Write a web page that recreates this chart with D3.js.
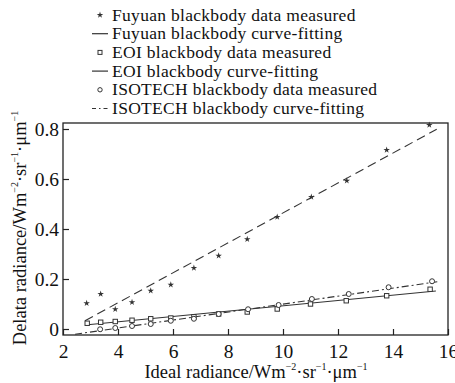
<!DOCTYPE html>
<html><head><meta charset="utf-8">
<script src="https://cdn.jsdelivr.net/npm/d3@7"></script>
<style>body{margin:0;background:#fff}svg{display:block}text{font-family:"Liberation Serif","Times New Roman",serif;fill:#111}</style>
</head><body><svg id="c" width="455" height="383"></svg>
<script>
const fuyuanX = [2.86,3.37,3.9,4.51,5.19,5.92,6.76,7.66,8.70,9.79,11.03,12.32,13.77,15.32];
const fuyuanY = [0.103,0.14,0.079,0.107,0.153,0.177,0.244,0.293,0.359,0.448,0.528,0.593,0.716,0.816];
const eoiX = [2.88,3.37,3.9,4.51,5.19,5.92,6.76,7.66,8.70,9.79,11.0,12.3,13.77,15.35];
const eoiY = [0.023,0.027,0.03,0.035,0.041,0.044,0.049,0.06,0.068,0.08,0.10,0.113,0.133,0.159];
const isoX = [3.35,3.9,4.51,5.19,5.92,6.76,7.66,8.73,9.84,11.05,12.39,13.84,15.42];
const isoY = [-0.001,0.004,0.012,0.02,0.033,0.041,0.06,0.079,0.096,0.12,0.14,0.167,0.191];
const fuyuanFitX = [2.8,15.59], fuyuanFitY = [0.033,0.799];
const eoiFitX = [2.8,15.56], eoiFitY = [0.016,0.152];
const isoFitX = [2.44,15.61], isoFitY = [-0.021,0.189];
const xTicks = [2,4,6,8,10,12,14,16];
const yTicks = [0,0.2,0.4,0.6,0.8];
const legendLabels = ["Fuyuan blackbody data measured","Fuyuan blackbody curve-fitting","EOI blackbody data measured","EOI blackbody curve-fitting","ISOTECH blackbody data measured","ISOTECH blackbody curve-fitting"];

const svg = d3.select("#c");
const L=63,R=448,T=123,B=335;
const x = d3.scaleLinear().domain([2,16]).range([L,R]);
const y = d3.scaleLinear().domain([-0.024,0.824]).range([B,T]);
const col="#222";

svg.append("rect").attr("x",L).attr("y",T).attr("width",R-L).attr("height",B-T).attr("fill","none").attr("stroke",col).attr("stroke-width",1.3);

const xa = svg.append("g").attr("transform",`translate(0,${B})`).call(d3.axisBottom(x).tickValues(xTicks).tickSize(-6).tickPadding(9).tickFormat(d3.format("d")));
const ya = svg.append("g").attr("transform",`translate(${L},0)`).call(d3.axisLeft(y).tickValues(yTicks).tickSize(-6).tickPadding(4).tickFormat(d=>d===0?"0":d3.format(".1f")(d)));
[xa,ya].forEach(a=>{a.select(".domain").remove();a.selectAll("line").attr("stroke",col).attr("stroke-width",1.2);a.selectAll("text").attr("font-size",19.5).attr("font-family","Liberation Serif").attr("fill","#111");});

function fitLine(xs,ys,dash){
  svg.append("path").datum(xs.map((v,i)=>[v,ys[i]]))
   .attr("d",d3.line().x(d=>x(d[0])).y(d=>y(d[1])))
   .attr("fill","none").attr("stroke","#333").attr("stroke-width",1.1).attr("stroke-dasharray",dash);
}
fitLine(fuyuanFitX,fuyuanFitY,"9,5");
fitLine(eoiFitX,eoiFitY,null);
fitLine(isoFitX,isoFitY,"7,3,2,3");

const star = d3.symbol().type(d3.symbolStar).size(13);
svg.append("g").selectAll("path").data(fuyuanX).join("path")
  .attr("transform",(d,i)=>`translate(${x(d)},${y(fuyuanY[i])})`).attr("d",star()).attr("fill","#333");
svg.append("g").selectAll("rect").data(eoiX).join("rect")
  .attr("x",d=>x(d)-2.2).attr("y",(d,i)=>y(eoiY[i])-2.2).attr("width",4.4).attr("height",4.4)
  .attr("fill","#fff").attr("stroke","#333").attr("stroke-width",1);
svg.append("g").selectAll("circle").data(isoX).join("circle")
  .attr("cx",d=>x(d)).attr("cy",(d,i)=>y(isoY[i])).attr("r",2.5)
  .attr("fill","#fff").attr("stroke","#333").attr("stroke-width",1);

// legend
const lg = svg.append("g");
legendLabels.forEach((t,i)=>{
  const yy = 15 + i*18.7;
  lg.append("text").attr("x",112).attr("y",yy+5.5).attr("font-size",17.5).attr("letter-spacing",0.3).text(t);
  if(i===0) lg.append("path").attr("transform",`translate(100,${yy})`).attr("d",star()).attr("fill","#333");
  if(i===2) lg.append("rect").attr("x",98).attr("y",yy-2).attr("width",4).attr("height",4).attr("fill","#fff").attr("stroke","#333");
  if(i===4) lg.append("circle").attr("cx",100).attr("cy",yy).attr("r",2.2).attr("fill","#fff").attr("stroke","#333");
  if(i===1||i===3) lg.append("line").attr("x1",92).attr("x2",108).attr("y1",yy).attr("y2",yy).attr("stroke","#333").attr("stroke-width",1.2);
  if(i===5) lg.append("line").attr("x1",92).attr("x2",108).attr("y1",yy).attr("y2",yy).attr("stroke","#333").attr("stroke-width",1.2).attr("stroke-dasharray","4,3,1.5,3");
});

function unitLabel(sel,base){
  sel.append("tspan").text(base+"/Wm");
  sel.append("tspan").attr("dy",-8).attr("font-size",10).text("−2");
  sel.append("tspan").attr("dy",8).text("·sr");
  sel.append("tspan").attr("dy",-8).attr("font-size",10).text("−1");
  sel.append("tspan").attr("dy",8).text("·μm");
  sel.append("tspan").attr("dy",-8).attr("font-size",10).text("−1");
}
const xl = svg.append("text").attr("x",256).attr("y",378).attr("text-anchor","middle").attr("font-size",18.5);
unitLabel(xl,"Ideal radiance");
const yl = svg.append("text").attr("transform","translate(26,228) rotate(-90)").attr("text-anchor","middle").attr("font-size",18.5);
unitLabel(yl,"Delata radiance");
</script></body></html>
